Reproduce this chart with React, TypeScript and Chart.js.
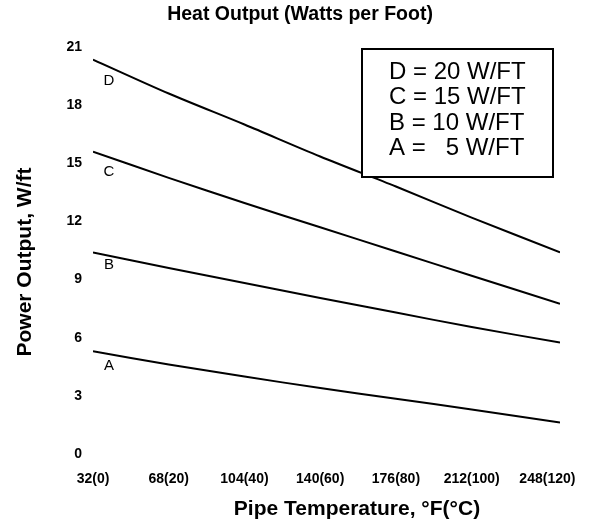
import { useEffect, useRef } from 'react';
import { Chart, registerables } from 'chart.js';

Chart.register(...registerables);

const temperaturesF = [32, 68, 104, 140, 176, 212, 254];
const seriesD = [20.35, 18.6, 17.0, 15.35, 13.8, 12.2, 10.4];
const seriesC = [15.6, 14.25, 12.95, 11.7, 10.45, 9.2, 7.75];
const seriesB = [10.4, 9.6, 8.82, 8.05, 7.3, 6.55, 5.75];
const seriesA = [5.3, 4.62, 4.0, 3.4, 2.85, 2.3, 1.62];
const seriesNames = ['D', 'C', 'B', 'A'];
const seriesLabelValues = [19.26, 14.55, 9.75, 4.54];
const seriesLabelTemp = 39.6;
const xTickValues = [32, 68, 104, 140, 176, 212, 248];
const xTickLabels = ['32(0)', '68(20)', '104(40)', '140(60)', '176(80)', '212(100)', '248(120)'];
const yTickValues = [0, 3, 6, 9, 12, 15, 18, 21];
const legendLines = ['D = 20 W/FT', 'C = 15 W/FT', 'B = 10 W/FT', 'A =   5 W/FT'];
const chartTitle = 'Heat Output (Watts per Foot)';
const xTitle = 'Pipe Temperature, °F(°C)';
const yTitle = 'Power Output, W/ft';

const FONT = '"Liberation Sans", Arial, Helvetica, sans-serif';

export default function App() {
  const ref = useRef<HTMLCanvasElement>(null);

  useEffect(() => {
    if (!ref.current) return;
    Chart.defaults.font.family = FONT;
    Chart.defaults.color = '#000';

    const annotate = {
      id: 'annotate',
      afterDatasetsDraw(chart: any) {
        const { ctx, scales } = chart;
        const x = scales.x;
        const y = scales.y;
        ctx.save();
        ctx.fillStyle = '#000';
        ctx.font = `15px ${FONT}`;
        ctx.textAlign = 'center';
        ctx.textBaseline = 'middle';
        seriesNames.forEach((n, i) => {
          ctx.fillText(n, x.getPixelForValue(seriesLabelTemp), y.getPixelForValue(seriesLabelValues[i]));
        });
        // legend box
        ctx.fillStyle = '#fff';
        ctx.fillRect(362, 49, 191, 128);
        ctx.lineWidth = 2;
        ctx.strokeStyle = '#000';
        ctx.strokeRect(362, 49, 191, 128);
        ctx.fillStyle = '#000';
        ctx.font = `24px ${FONT}`;
        ctx.textAlign = 'left';
        legendLines.forEach((t, i) => ctx.fillText(t, 389, 72 + i * 25.5));

        // titles
        ctx.textAlign = 'center';
        ctx.font = `bold 19.5px ${FONT}`;
        ctx.fillText(chartTitle, 300, 14.5);
        ctx.font = `bold 21px ${FONT}`;
        ctx.fillText(xTitle, 357, 509);
        ctx.translate(25, 262);
        ctx.rotate(-Math.PI / 2);
        ctx.fillText(yTitle, 0, 0);
        ctx.restore();
      },
    };

    const mk = (label: string, values: number[]) => ({
      label,
      data: values.map((v, i) => ({ x: temperaturesF[i], y: v })),
      borderColor: '#000',
      backgroundColor: '#000',
      borderWidth: 2,
      pointRadius: 0,
      tension: 0.3,
      fill: false,
    });

    const chart = new Chart(ref.current, {
      type: 'line',
      data: {
        datasets: [mk('D', seriesD), mk('C', seriesC), mk('B', seriesB), mk('A', seriesA)],
      },
      options: {
        animation: false,
        responsive: true,
        maintainAspectRatio: false,
        layout: { autoPadding: false, padding: { left: 0, right: 38, top: 47, bottom: 0 } },
        plugins: {
          legend: { display: false },
          tooltip: { enabled: false },
          title: { display: false },
        },
        scales: {
          x: {
            type: 'linear',
            min: 32,
            max: 254,
            grid: { display: false, drawTicks: false },
            border: { display: false },
            afterBuildTicks: (s: any) => {
              s.ticks = xTickValues.map((v) => ({ value: v }));
            },
            afterFit: (s: any) => {
              s.height = 71;
            },
            ticks: {
              autoSkip: false,
              maxRotation: 0,
              padding: 17,
              color: '#000',
              font: { size: 14, weight: 'bold', family: FONT },
              callback: (v: any) => {
                const i = xTickValues.indexOf(Number(v));
                return i >= 0 ? xTickLabels[i] : '';
              },
            },
            title: { display: false },
          },
          y: {
            min: 0,
            max: 21,
            grid: { display: false, drawTicks: false },
            border: { display: false },
            afterBuildTicks: (s: any) => {
              s.ticks = yTickValues.map((v) => ({ value: v }));
            },
            afterFit: (s: any) => {
              s.width = 93;
            },
            ticks: {
              padding: 11,
              color: '#000',
              font: { size: 14, weight: 'bold', family: FONT },
            },
            title: { display: false },
          },
        },
      },
      plugins: [annotate],
    });

    return () => chart.destroy();
  }, []);

  return (
    <div style={{ position: 'fixed', left: 0, top: 0, width: 598, height: 525, background: '#fff' }}>
      <canvas ref={ref} />
    </div>
  );
}
